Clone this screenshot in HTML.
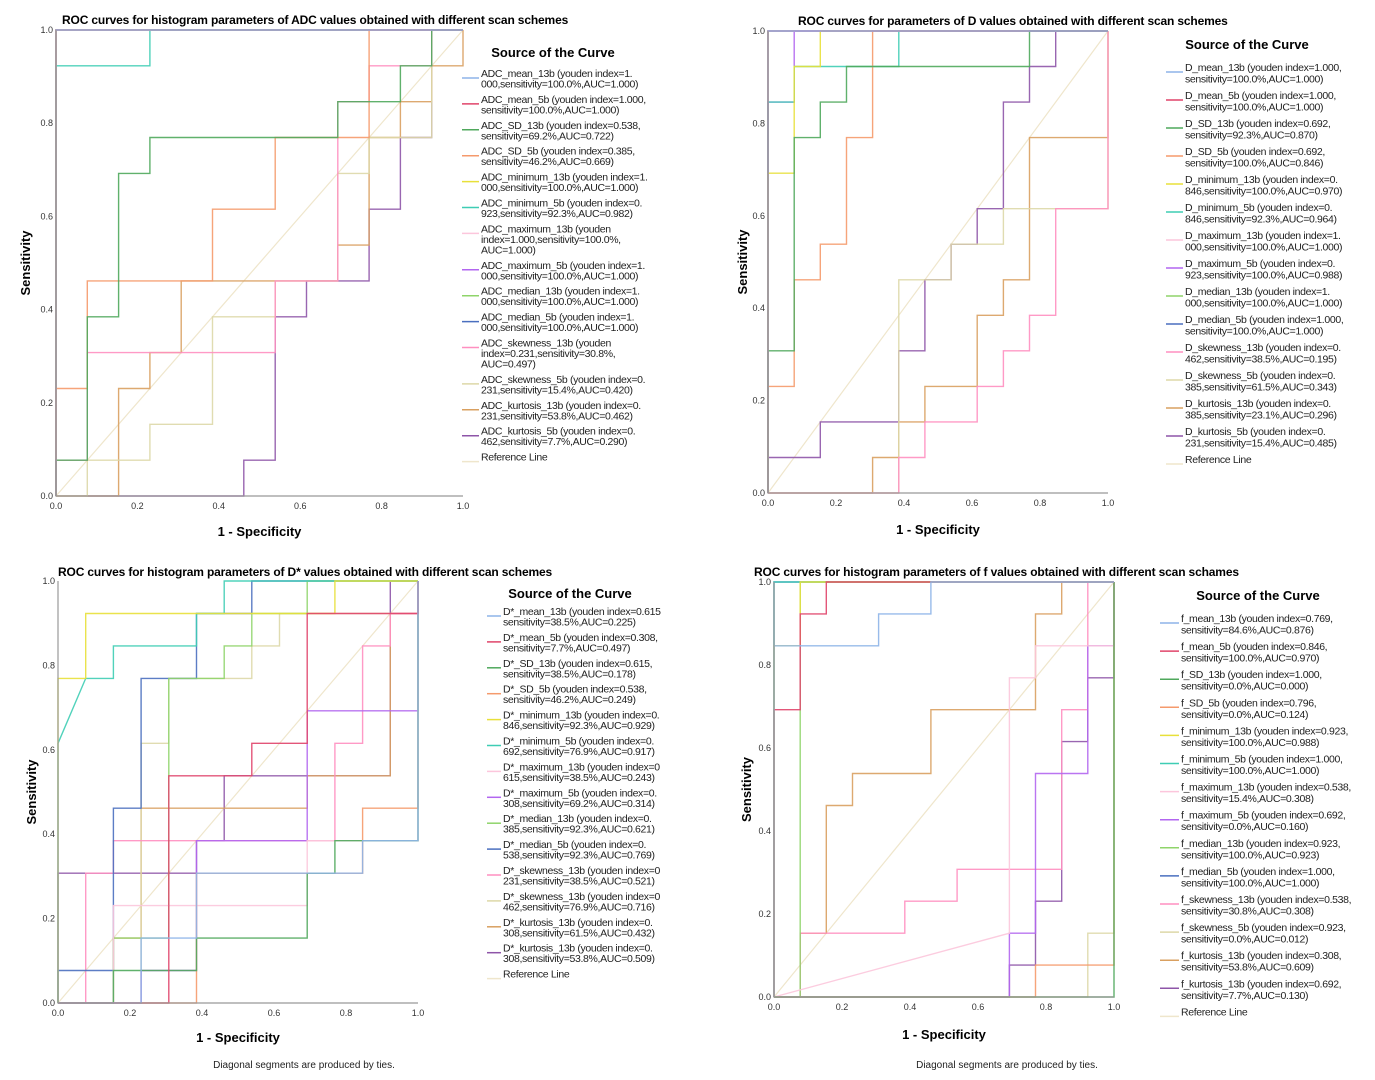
<!DOCTYPE html>
<html><head><meta charset="utf-8">
<style>
html,body{margin:0;padding:0;background:#fff;}
svg{display:block;font-family:"Liberation Sans",sans-serif;}
.title{font-weight:bold;font-size:12px;letter-spacing:-0.15px;}
.ax{font-weight:bold;font-size:13px;}
.tick{font-size:9px;fill:#333;}
.leg{font-size:11px;fill:#222;}
.foot{font-size:10px;fill:#222;}
</style></head>
<body>
<svg id="chart" width="1375" height="1080" viewBox="0 0 1375 1080" xmlns="http://www.w3.org/2000/svg"></svg>
<script>
// Values in units of 1/13 (13 positives, 13 negatives). Each curve: list of [fprCount, tprCount] step vertices.
const perfect = [[0,0],[0,13],[13,13]];
// Panel A: ADC
const adcMin5 = [[0,0],[0,12],[3,12],[3,13],[13,13]];
const adcSD13 = [[0,0],[0,1],[1,1],[1,5],[2,5],[2,9],[3,9],[3,10],[9,10],[9,11],[10,11],[11,11],[11,12],[12,12],[12,13],[13,13]];
const adcSD5 = [[0,0],[0,3],[1,3],[1,6],[5,6],[5,8],[7,8],[7,10],[10,10],[10,13],[13,13]];
const adcSkew13 = [[0,0],[0,1],[1,1],[1,4],[7,4],[7,6],[9,6],[9,11],[10,11],[10,12],[12,12],[12,13],[13,13]];
const adcSkew5 = [[0,0],[1,0],[1,1],[3,1],[3,2],[5,2],[5,5],[7,5],[7,6],[9,6],[9,9],[10,9],[10,10],[12,10],[12,12],[12,13],[13,13]];
const adcKurt13 = [[0,0],[2,0],[2,3],[3,3],[3,4],[4,4],[4,6],[9,6],[9,7],[10,7],[10,10],[11,10],[11,11],[12,11],[12,12],[13,12],[13,13]];
const adcKurt5 = [[0,0],[6,0],[6,1],[7,1],[7,5],[8,5],[8,6],[10,6],[10,8],[11,8],[11,10],[12,10],[12,13],[13,13]];
// Panel B: D
const dMax5 = [[0,0],[0,11],[1,11],[1,13],[13,13]];
const dMin13 = [[0,0],[0,9],[1,9],[1,12],[2,12],[2,13],[13,13]];
const dMin5 = [[0,0],[0,11],[1,11],[1,12],[5,12],[5,13],[13,13]];
const dSD13 = [[0,0],[0,4],[1,4],[1,10],[2,10],[2,11],[3,11],[3,12],[10,12],[10,13],[13,13]];
const dSD5 = [[0,0],[0,3],[1,3],[1,6],[2,6],[2,7],[3,7],[3,10],[4,10],[4,13],[13,13]];
const dKurt5 = [[0,0],[0,1],[2,1],[2,2],[5,2],[5,4],[6,4],[6,6],[7,6],[7,7],[8,7],[8,8],[9,8],[9,11],[10,11],[10,12],[11,12],[11,13],[13,13]];
const dSkew5 = [[0,0],[5,0],[5,6],[7,6],[7,7],[9,7],[9,8],[13,8],[13,13]];
const dKurt13 = [[0,0],[4,0],[4,1],[5,1],[5,2],[6,2],[6,3],[8,3],[8,5],[9,5],[9,6],[10,6],[10,10],[13,10],[13,13]];
const dSkew13 = [[0,0],[5,0],[5,1],[6,1],[6,2],[8,2],[8,3],[9,3],[9,4],[10,4],[10,5],[11,5],[11,8],[13,8],[13,13]];
// Panel C: D*
const dsMean13 = [[0,0],[3,0],[3,2],[5,2],[5,4],[10,4],[11,4],[11,5],[13,5],[13,13]];
const dsMean5 = [[0,0],[4,0],[4,7],[7,7],[7,8],[9,8],[9,12],[13,12],[13,13]];
const dsSD13 = [[0,0],[2,0],[2,1],[5,1],[5,2],[9,2],[9,4],[10,4],[10,5],[13,5],[13,13]];
const dsSD5 = [[0,0],[5,0],[5,4],[11,4],[11,6],[13,6],[13,13]];
const dsMin13 = [[0,0],[0,10],[1,10],[1,12],[10,12],[10,13],[13,13]];
const dsMin5 = [[0,0],[0,8],[1,10],[2,10],[2,11],[5,11],[5,12],[6,12],[6,13],[13,13]];
const dsMax13 = [[0,0],[2,0],[2,3],[9,3],[9,5],[13,5],[13,13]];
const dsMax5 = [[0,0],[3,0],[3,1],[5,1],[5,5],[7,5],[7,5],[9,5],[9,9],[13,9],[13,12],[13,13]];
const dsMed13 = [[0,0],[2,0],[2,2],[4,2],[4,4],[4,10],[6,10],[6,11],[7,11],[7,12],[9,12],[9,13],[13,13]];
const dsMed5 = [[0,0],[0,1],[2,1],[2,6],[3,6],[3,10],[5,10],[5,12],[7,12],[7,13],[13,13]];
const dsSkew13 = [[0,0],[1,0],[1,4],[2,4],[2,5],[10,5],[10,8],[11,8],[11,11],[12,11],[12,12],[13,12],[13,13]];
const dsSkew5 = [[0,0],[3,0],[3,8],[4,8],[4,10],[7,10],[7,11],[8,11],[8,12],[12,12],[13,12],[13,13]];
const dsKurt13 = [[0,0],[2,0],[2,2],[3,2],[3,6],[9,6],[9,7],[12,7],[12,12],[13,12],[13,13]];
const dsKurt13b = [[0,0],[0,4],[5,4],[5,5],[6,5],[6,7],[12,7],[12,8],[12,13],[13,13]];
// Panel D: f
const fMean13 = [[0,0],[0,11],[4,11],[4,12],[6,12],[6,13],[13,13]];
const fMean5 = [[0,0],[0,9],[1,9],[1,12],[2,12],[2,13],[13,13]];
const fSD13 = [[0,0],[13,0],[13,13]];
const fSD5 = [[0,0],[10,0],[10,1],[13,1],[13,13]];
const fMin13 = [[0,0],[0,11],[1,11],[1,13],[13,13]];
const fMax13 = [[0,0],[9,2],[9,10],[10,10],[10,11],[13,11],[13,13]];
const fMax5 = [[0,0],[9,0],[9,2],[10,2],[10,7],[12,7],[12,11],[13,11],[13,13]];
const fMed13 = [[0,0],[1,0],[1,13],[13,13]];
const fSkew13 = [[0,0],[1,0],[1,2],[5,2],[5,3],[7,3],[7,4],[11,4],[11,9],[12,9],[12,13],[13,13]];
const fSkew5 = [[0,0],[12,0],[12,2],[13,2],[13,13]];
const fKurt13 = [[0,0],[1,0],[1,2],[2,2],[2,6],[3,6],[3,7],[6,7],[6,9],[10,9],[10,12],[11,12],[11,13],[13,13]];
const fKurt13b = [[0,0],[9,0],[9,1],[10,1],[10,3],[11,3],[11,8],[12,8],[12,10],[13,10],[13,13]];

const COLORS=['#8db4e8','#e0446a','#4fa85c','#f59a6c','#e8e03a','#3ecdb4','#fcc6dc','#b266f0','#8fd46a','#4a6fbf','#ff8fc0','#ddd8a8','#d9a060','#8e55a8'];
const ticks=[0,0.2,0.4,0.6,0.8,1.0];

const panels=[
 {title:'ROC curves for histogram parameters of ADC values obtained with different scan schemes',tx:62,ty:24,
  x0:56,x1:463,y0:496,y1:30,ylab:26,xlabY:536,
  curves:[perfect,perfect,adcSD13,adcSD5,perfect,adcMin5,perfect,perfect,perfect,perfect,adcSkew13,adcSkew5,adcKurt13,adcKurt5],
  lg:{title:'Source of the Curve',cx:553,ty:57,lx:462,tx:481,y:77,lh:10.5,gap:4.9},
  entries:[['ADC_mean_13b (youden index=1.','000,sensitivity=100.0%,AUC=1.000)'],['ADC_mean_5b (youden index=1.000,','sensitivity=100.0%,AUC=1.000)'],['ADC_SD_13b (youden index=0.538,','sensitivity=69.2%,AUC=0.722)'],['ADC_SD_5b (youden index=0.385,','sensitivity=46.2%,AUC=0.669)'],['ADC_minimum_13b (youden index=1.','000,sensitivity=100.0%,AUC=1.000)'],['ADC_minimum_5b (youden index=0.','923,sensitivity=92.3%,AUC=0.982)'],['ADC_maximum_13b (youden','index=1.000,sensitivity=100.0%,','AUC=1.000)'],['ADC_maximum_5b (youden index=1.','000,sensitivity=100.0%,AUC=1.000)'],['ADC_median_13b (youden index=1.','000,sensitivity=100.0%,AUC=1.000)'],['ADC_median_5b (youden index=1.','000,sensitivity=100.0%,AUC=1.000)'],['ADC_skewness_13b (youden','index=0.231,sensitivity=30.8%,','AUC=0.497)'],['ADC_skewness_5b (youden index=0.','231,sensitivity=15.4%,AUC=0.420)'],['ADC_kurtosis_13b (youden index=0.','231,sensitivity=53.8%,AUC=0.462)'],['ADC_kurtosis_5b (youden index=0.','462,sensitivity=7.7%,AUC=0.290)']]},
 {title:'ROC curves for parameters of  D values obtained with different scan schemes',tx:798,ty:25,
  x0:768,x1:1108,y0:493,y1:31,ylab:743,xlabY:534,
  curves:[perfect,perfect,dSD13,dSD5,dMin13,dMin5,perfect,dMax5,perfect,perfect,dSkew13,dSkew5,dKurt13,dKurt5],
  lg:{title:'Source of the Curve',cx:1247,ty:49,lx:1166,tx:1185,y:71,lh:11.5,gap:5},
  entries:[['D_mean_13b (youden index=1.000,','sensitivity=100.0%,AUC=1.000)'],['D_mean_5b (youden index=1.000,','sensitivity=100.0%,AUC=1.000)'],['D_SD_13b (youden index=0.692,','sensitivity=92.3%,AUC=0.870)'],['D_SD_5b (youden index=0.692,','sensitivity=100.0%,AUC=0.846)'],['D_minimum_13b (youden index=0.','846,sensitivity=100.0%,AUC=0.970)'],['D_minimum_5b (youden index=0.','846,sensitivity=92.3%,AUC=0.964)'],['D_maximum_13b (youden index=1.','000,sensitivity=100.0%,AUC=1.000)'],['D_maximum_5b (youden index=0.','923,sensitivity=100.0%,AUC=0.988)'],['D_median_13b (youden index=1.','000,sensitivity=100.0%,AUC=1.000)'],['D_median_5b (youden index=1.000,','sensitivity=100.0%,AUC=1.000)'],['D_skewness_13b (youden index=0.','462,sensitivity=38.5%,AUC=0.195)'],['D_skewness_5b (youden index=0.','385,sensitivity=61.5%,AUC=0.343)'],['D_kurtosis_13b (youden index=0.','385,sensitivity=23.1%,AUC=0.296)'],['D_kurtosis_5b (youden index=0.','231,sensitivity=15.4%,AUC=0.485)']]},
 {title:'ROC curves for histogram parameters of D* values obtained with different scan schemes',tx:58,ty:576,
  x0:58,x1:418,y0:1003,y1:581,ylab:32,xlabY:1042,
  curves:[dsMean13,dsMean5,dsSD13,dsSD5,dsMin13,dsMin5,dsMax13,dsMax5,dsMed13,dsMed5,dsSkew13,dsSkew5,dsKurt13,dsKurt13b],
  lg:{title:'Source of the Curve',cx:570,ty:598,lx:487,tx:503,y:615,lh:10.5,gap:4.9},
  entries:[['D*_mean_13b (youden index=0.615','sensitivity=38.5%,AUC=0.225)'],['D*_mean_5b (youden index=0.308,','sensitivity=7.7%,AUC=0.497)'],['D*_SD_13b (youden index=0.615,','sensitivity=38.5%,AUC=0.178)'],['D*_SD_5b (youden index=0.538,','sensitivity=46.2%,AUC=0.249)'],['D*_minimum_13b (youden index=0.','846,sensitivity=92.3%,AUC=0.929)'],['D*_minimum_5b (youden index=0.','692,sensitivity=76.9%,AUC=0.917)'],['D*_maximum_13b (youden index=0','615,sensitivity=38.5%,AUC=0.243)'],['D*_maximum_5b (youden index=0.','308,sensitivity=69.2%,AUC=0.314)'],['D*_median_13b (youden index=0.','385,sensitivity=92.3%,AUC=0.621)'],['D*_median_5b (youden index=0.','538,sensitivity=92.3%,AUC=0.769)'],['D*_skewness_13b (youden index=0','231,sensitivity=38.5%,AUC=0.521)'],['D*_skewness_13b (youden index=0','462,sensitivity=76.9%,AUC=0.716)'],['D*_kurtosis_13b (youden index=0.','308,sensitivity=61.5%,AUC=0.432)'],['D*_kurtosis_13b (youden index=0.','308,sensitivity=53.8%,AUC=0.509)']]},
 {title:'ROC curves for histogram parameters of f values obtained with different scan schames',tx:754,ty:576,
  x0:774,x1:1114,y0:997,y1:582,ylab:747,xlabY:1039,
  curves:[fMean13,fMean5,fSD13,fSD5,fMin13,perfect,fMax13,fMax5,fMed13,perfect,fSkew13,fSkew5,fKurt13,fKurt13b],
  lg:{title:'Source of the Curve',cx:1258,ty:600,lx:1160,tx:1181,y:622,lh:11.5,gap:5.1},
  entries:[['f_mean_13b (youden index=0.769,','sensitivity=84.6%,AUC=0.876)'],['f_mean_5b (youden index=0.846,','sensitivity=100.0%,AUC=0.970)'],['f_SD_13b (youden index=1.000,','sensitivity=0.0%,AUC=0.000)'],['f_SD_5b (youden index=0.796,','sensitivity=0.0%,AUC=0.124)'],['f_minimum_13b (youden index=0.923,','sensitivity=100.0%,AUC=0.988)'],['f_minimum_5b (youden index=1.000,','sensitivity=100.0%,AUC=1.000)'],['f_maximum_13b (youden index=0.538,','sensitivity=15.4%,AUC=0.308)'],['f_maximum_5b (youden index=0.692,','sensitivity=0.0%,AUC=0.160)'],['f_median_13b (youden index=0.923,','sensitivity=100.0%,AUC=0.923)'],['f_median_5b (youden index=1.000,','sensitivity=100.0%,AUC=1.000)'],['f_skewness_13b (youden index=0.538,','sensitivity=30.8%,AUC=0.308)'],['f_skewness_5b (youden index=0.923,','sensitivity=0.0%,AUC=0.012)'],['f_kurtosis_13b (youden index=0.308,','sensitivity=53.8%,AUC=0.609)'],['f_kurtosis_13b (youden index=0.692,','sensitivity=7.7%,AUC=0.130)']]}
];

const NS='http://www.w3.org/2000/svg';
const svg=document.getElementById('chart');
function mk(tag,attrs,parent){const e=document.createElementNS(NS,tag);for(const k in attrs)e.setAttribute(k,attrs[k]);(parent||svg).appendChild(e);return e;}

panels.forEach((p,pi)=>{
  const g=mk('g',{});
  
  
  const sx=v=>p.x0+(p.x1-p.x0)*v/13;
  const sy=v=>p.y0+(p.y1-p.y0)*v/13;
  const t=mk('text',{x:p.tx,y:p.ty,class:'title'},g);t.textContent=p.title;
  
  
  const rl=mk('line',{x1:sx(0),y1:sy(0),x2:sx(13),y2:sy(13),stroke:'#efe6cc','stroke-width':1.2},g);
  
  
  for(let i=p.curves.length-1;i>=0;i--){
    const pts=p.curves[i].map(q=>sx(q[0]).toFixed(1)+','+sy(q[1]).toFixed(1)).join(' ');
    const pl=mk('polyline',{points:pts,fill:'none',stroke:COLORS[i],'stroke-width':1.4,'stroke-opacity':0.9},g);
    
    
  }
  const ax=mk('path',{d:`M${p.x0},${p.y1} V${p.y0} H${p.x1}`,fill:'none',stroke:'#999','stroke-width':1.2},g);
  
  
  ticks.forEach(v=>{
    const a=mk('text',{x:p.x0-3,y:sy(v*13)+3,class:'tick','text-anchor':'end'},g);a.textContent=v.toFixed(1);
    
    
    const b=mk('text',{x:sx(v*13),y:p.y0+13,class:'tick','text-anchor':'middle'},g);b.textContent=v.toFixed(1);
    
    
  });
  const yl=mk('text',{x:0,y:0,class:'ax','text-anchor':'middle',transform:`translate(${p.ylab+4},${(p.y0+p.y1)/2}) rotate(-90)`},g);yl.textContent='Sensitivity';
  
  
  const xl=mk('text',{x:(p.x0+p.x1)/2,y:p.xlabY,class:'ax','text-anchor':'middle'},g);xl.textContent='1 - Specificity';
  
  
  const L=p.lg;
  const lt=mk('text',{x:L.cx,y:L.ty,class:'ax','text-anchor':'middle'},g);lt.textContent=L.title;
  
  
  let y=L.y;
  const all=p.entries.concat([['Reference Line']]);
  all.forEach((lines,i)=>{
    const col=i<14?COLORS[i]:'#efe6cc';
    const ln=mk('line',{x1:L.lx,x2:L.tx-2,y1:y+1,y2:y+1,stroke:col,'stroke-width':1.5},g);
    
    
    const tx=mk('text',{x:L.tx,y:y,class:'leg'},g);
    
    
    lines.forEach((s,j)=>{const ts=mk('tspan',{x:L.tx,y:y+j*L.lh},tx);ts.textContent=s;});
    tx.setAttribute('style','font-size:10.5px;letter-spacing:-0.35px');
    y+=lines.length*L.lh+L.gap;
  });
});
[[304,'foot-note-left'],[1007,'foot-note-right']].forEach(f=>{
  const t=mk('text',{x:f[0],y:1068,class:'foot','text-anchor':'middle'});t.textContent='Diagonal segments are produced by ties.';
  
  
});
</script>
</body></html>
